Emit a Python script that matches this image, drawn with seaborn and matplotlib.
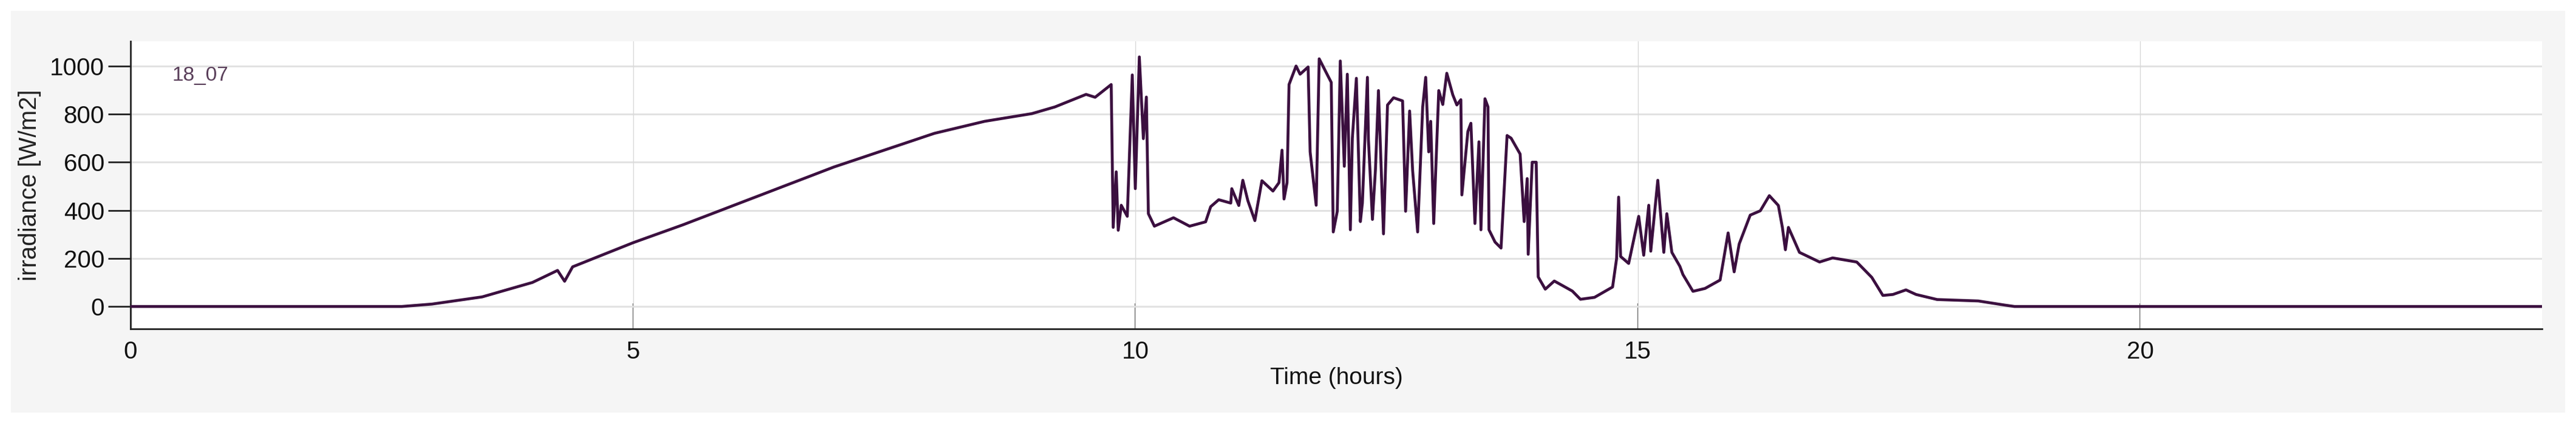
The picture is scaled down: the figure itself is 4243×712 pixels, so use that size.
import matplotlib
matplotlib.use("Agg")
import matplotlib.pyplot as plt
import seaborn as sns
import pandas as pd
from matplotlib.patches import Rectangle

hours = [0.0, 2.7, 3.0, 3.5, 4.0, 4.25, 4.32, 4.4, 5.0, 5.5, 6.0, 6.5, 7.0, 7.5, 8.0, 8.5, 8.97, 9.2, 9.51, 9.6, 9.76,
         9.78, 9.81, 9.83, 9.86, 9.92, 9.97, 10.0, 10.04, 10.08, 10.11, 10.13, 10.19, 10.38, 10.54, 10.7, 10.75, 10.83,
         10.95, 10.96, 11.03, 11.07, 11.12, 11.19, 11.26, 11.37, 11.43, 11.46, 11.48, 11.51, 11.53, 11.60, 11.64, 11.72,
         11.74, 11.80, 11.83, 11.95, 11.97, 12.01, 12.04, 12.08, 12.11, 12.14, 12.16, 12.20, 12.24, 12.26, 12.31, 12.32,
         12.36, 12.39, 12.42, 12.47, 12.51, 12.57, 12.66, 12.69, 12.73, 12.76, 12.81, 12.86, 12.89, 12.92, 12.94, 12.97,
         13.02, 13.06, 13.10, 13.16, 13.20, 13.24, 13.25, 13.31, 13.34, 13.38, 13.42, 13.44, 13.48, 13.51, 13.52, 13.58,
         13.64, 13.70, 13.74, 13.83, 13.87, 13.90, 13.91, 13.95, 13.99, 14.01, 14.08, 14.17, 14.35, 14.43, 14.57, 14.75,
         14.79, 14.81, 14.83, 14.91, 15.01, 15.06, 15.11, 15.13, 15.20, 15.26, 15.29, 15.34, 15.42, 15.45, 15.55, 15.67,
         15.82, 15.90, 15.96, 16.01, 16.12, 16.22, 16.31, 16.40, 16.44, 16.47, 16.50, 16.61, 16.81, 16.94, 17.18, 17.33,
         17.44, 17.54, 17.67, 17.77, 17.98, 18.39, 18.65, 18.75, 24.0]
irr = [0, 0, 10, 40, 100, 150, 105, 165, 265, 340, 420, 500, 580, 650, 720, 770, 802, 830, 882, 870, 923,
       329, 560, 317, 421, 375, 963, 490, 1038, 698, 871, 386, 334, 369, 334, 352, 415, 444,
       430, 490, 420, 525, 440, 357, 523, 480, 515, 650, 447, 515, 923, 1000, 966, 996,
       643, 421, 1030, 932, 310, 396, 1021, 583, 966, 319, 700, 949, 353, 430, 953, 694,
       362, 570, 898, 302, 838, 868, 855, 396, 813, 566, 310, 830, 953, 643, 770, 345,
       898, 840, 970, 880, 838, 860, 464, 728, 762, 345, 685, 319, 864, 830, 319, 268,
       243, 711, 700, 634, 353, 532, 217, 600, 600, 123, 72, 106, 64, 30, 38, 81,
       200, 455, 208, 179, 375, 213, 421, 230, 525, 225, 386, 225, 167, 133, 63, 75,
       110, 306, 144, 260, 380, 398, 461, 420, 329, 236, 329, 225, 185, 202, 185, 121,
       46, 50, 69, 50, 29, 23, 6, 0, 0]

xticks = [0, 5, 10, 15, 20]
yticks = [0, 200, 400, 600, 800, 1000]
series_label = "18_07"

sns.set_theme(style="white")
plt.rcParams['font.family'] = ['Liberation Sans', 'DejaVu Sans']

W, H = 4243, 712
fig = plt.figure(figsize=(W / 100, H / 100), dpi=100)
fig.patch.set_facecolor("white")
bg = Rectangle((18 / W, 32 / H), (4225 - 18) / W, (694 - 32) / H,
               transform=fig.transFigure, facecolor="#f5f5f5", edgecolor="none", zorder=-10)
fig.add_artist(bg)
ax = fig.add_axes([215 / W, (712 - 542) / H, (4187 - 215) / W, (542 - 68) / H])
ax.set_zorder(5)
ax.set_facecolor("white")

df = pd.DataFrame({"t": hours, "v": irr})
sns.lineplot(data=df, x="t", y="v", ax=ax, color="#3b0f3f", linewidth=3.4, zorder=3)

ax.set_xlim(0, 24)
ax.set_ylim(-93, 1103)
ax.set_xticks(xticks)
ax.set_yticks(yticks)
for y in yticks:
    ax.axhline(y, color="#e2e2e2", lw=2.2, zorder=1)
for x in xticks[1:]:
    ax.axvline(x, color="#d8d8d8", lw=1.0, zorder=1)
for s in ["top", "right"]:
    ax.spines[s].set_visible(False)
for s in ["left", "bottom"]:
    ax.spines[s].set_color("#222222")
    ax.spines[s].set_linewidth(2)
ax.tick_params(axis="x", bottom=True, direction="in", length=30, width=1.2, color="#222222",
               labelsize=29, pad=14, labelcolor="#111111")
ax.tick_params(axis="y", left=True, direction="out", length=27, width=2, color="#222222",
               labelsize=29, pad=4, labelcolor="#111111")
ax.set_xlabel("Time (hours)", fontsize=28, labelpad=4, color="#111111")
ax.set_ylabel("irradiance [W/m2]", fontsize=29, labelpad=10, color="#222222")
fig.text(284 / W, 1 - 125 / H, series_label, fontsize=24, color="#5a3f5a", ha="left", va="center", zorder=10)

fig.savefig("out.png", dpi=100)
